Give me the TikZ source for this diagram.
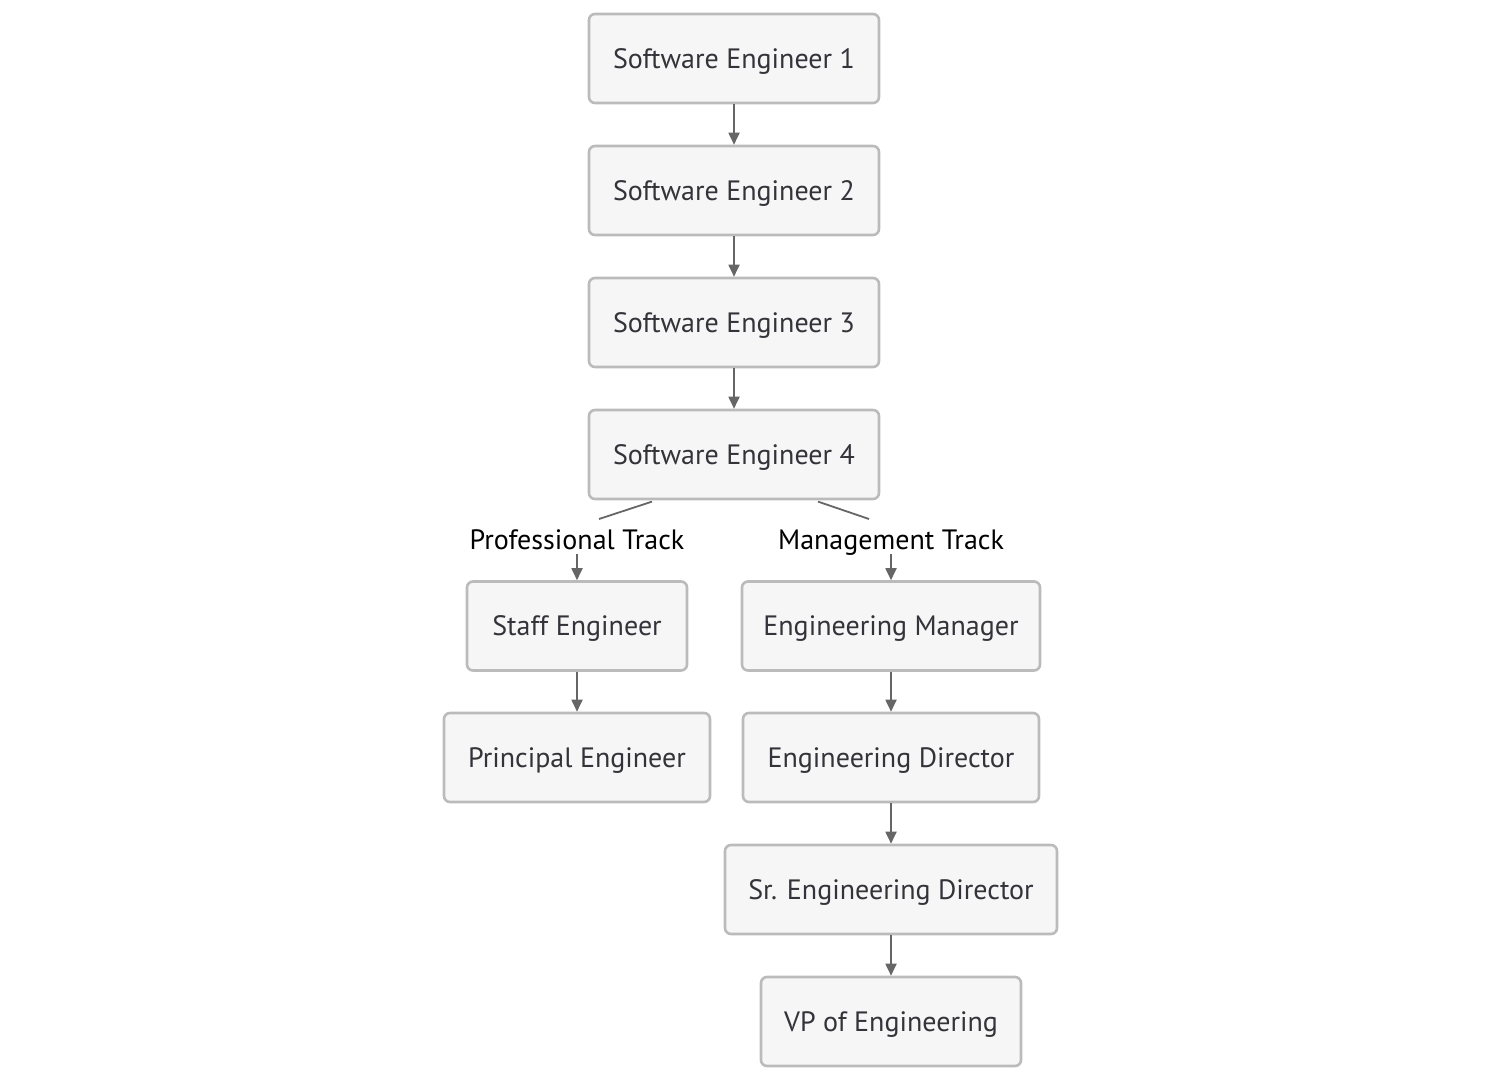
\documentclass[tikz,border=0pt]{standalone}
\usepackage{fontspec}
\setmainfont{PT Sans}
\usetikzlibrary{arrows.meta,calc}
\definecolor{boxfill}{HTML}{F6F6F7}
\definecolor{boxline}{HTML}{BBBBBB}
\definecolor{boxtext}{HTML}{333339}
\definecolor{edgecol}{HTML}{666666}
\tikzset{
  x=1pt,y=-1pt,
  role/.style={draw=boxline, line width=2.6pt, fill=boxfill, rounded corners=6pt,
    minimum height=89pt, inner sep=0pt, text=boxtext,
    text height=21.5pt, text depth=2.5pt,
    font=\fontsize{28}{32}\selectfont},
  track/.style={fill=white, inner sep=2pt, text=black,
    text height=21.5pt, text depth=2.5pt,
    font=\fontsize{28}{32}\selectfont},
  edge/.style={draw=edgecol, line width=1.8pt},
  arr/.style={edge, -{Triangle[width=11pt,length=12pt]}},
}
\begin{document}
\begin{tikzpicture}
\useasboundingbox (0,0) rectangle (1502,1080);
\node[role, minimum width=290pt] (se1) at (734,58.5) {Software Engineer 1};
\node[role, minimum width=290pt] (se2) at (734,190.5) {Software Engineer 2};
\node[role, minimum width=290pt] (se3) at (734,322.5) {Software Engineer 3};
\node[role, minimum width=290pt] (se4) at (734,454.5) {Software Engineer 4};
\node[track] (pt) at (577,540) {Professional Track};
\node[track] (mt) at (891,540) {Management Track};
\node[role, minimum width=220pt] (staff) at (577,626) {Staff Engineer};
\node[role, minimum width=266pt] (prin) at (577,757.5) {Principal Engineer};
\node[role, minimum width=298pt] (em) at (891,626) {Engineering Manager};
\node[role, minimum width=296pt] (ed) at (891,757.5) {Engineering Director};
\node[role, minimum width=332pt] (sed) at (891,889.5) {Sr. Engineering Director};
\node[role, minimum width=260pt] (vp) at (891,1021.5) {VP of Engineering};
\coordinate (pa) at ($(se4.south)+(-82,1.3)$);
\coordinate (pb) at (599,519);
\coordinate (ma) at ($(se4.south)+(84,1.3)$);
\coordinate (mb) at (869,519);
\draw[arr] (se1) -- (se2);
\draw[arr] (se2) -- (se3);
\draw[arr] (se3) -- (se4);
\draw[edge] (pa) -- (pb);
\draw[edge] (ma) -- (mb);
\draw[arr] (pt.south) -- (staff.north);
\draw[arr] (mt.south) -- (em.north);
\draw[arr] (staff) -- (prin);
\draw[arr] (em) -- (ed);
\draw[arr] (ed) -- (sed);
\draw[arr] (sed) -- (vp);
\end{tikzpicture}
\end{document}
